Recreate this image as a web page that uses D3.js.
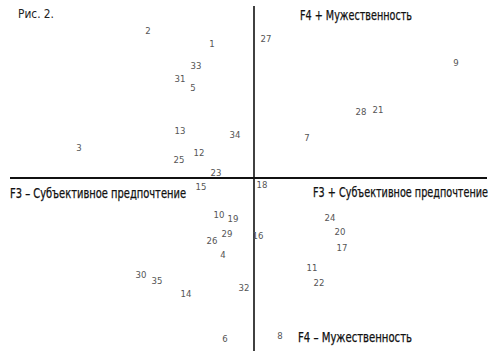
<!DOCTYPE html>
<html><head><meta charset="utf-8">
<script src="https://cdn.jsdelivr.net/npm/d3@7"></script>
<style>
body{margin:0;background:#fff;}
svg{display:block;}
</style></head>
<body><svg id="c" width="500" height="357"></svg>
<script>
// Point labels (respondent numbers)
const ids = [1,2,3,4,5,6,7,8,9,10,11,12,13,14,15,16,17,18,19,20,21,22,23,24,25,26,27,28,29,30,31,32,33,34,35];
// F3 "Субъективное предпочтение" scores
const f3 = [-0.42,-1.06,-1.75,-0.31,-0.61,-0.29,0.53,0.26,2.02,-0.35,0.58,-0.55,-0.74,-0.68,-0.53,0.04,0.88,0.08,-0.21,0.86,1.24,0.65,-0.38,0.76,-0.75,-0.42,0.12,1.07,-0.27,-1.13,-0.74,-0.10,-0.58,-0.19,-0.97];
// F4 "Мужественность" scores
const f4 = [1.34,1.47,0.30,-0.77,0.90,-1.61,0.40,-1.58,1.15,-0.37,-0.90,0.25,0.47,-1.16,-0.09,-0.58,-0.70,-0.07,-0.41,-0.54,0.68,-1.05,0.05,-0.40,0.18,-0.63,1.39,0.66,-0.56,-0.97,0.99,-1.10,1.12,0.43,-1.03];
const axisLabels = ["F4 + Мужественность","F4 – Мужественность","F3 – Субъективное предпочтение","F3 + Субъективное предпочтение"];
const title = "Рис. 2.";

const svg = d3.select("#c");
const x = d3.scaleLinear().domain([-2.44, 2.44]).range([10, 498]);
const y = d3.scaleLinear().domain([1.73, -1.73]).range([5, 351]);
const font = "'Liberation Sans Narrow','DejaVu Sans Condensed','Arial Narrow',sans-serif";

// axes
svg.append("line").attr("x1", x(-2.44)).attr("x2", x(2.33)).attr("y1", y(0)).attr("y2", y(0))
  .attr("stroke", "#111").attr("stroke-width", 2);
svg.append("line").attr("x1", x(0)).attr("x2", x(0)).attr("y1", y(1.72)).attr("y2", y(-1.73))
  .attr("stroke", "#111").attr("stroke-width", 1.6);

// title
svg.append("text").attr("x", 18).attr("y", 17.5).text(title)
  .attr("font-family", font).attr("font-size", 13).attr("fill", "#222")
  .attr("textLength", 36).attr("lengthAdjust", "spacingAndGlyphs");

// axis labels
const lab = [
  {t: axisLabels[0], x: 300, y: 19.5, w: 112},
  {t: axisLabels[1], x: 298, y: 341.5, w: 114},
  {t: axisLabels[2], x: 10, y: 197.5, w: 176},
  {t: axisLabels[3], x: 313, y: 196.5, w: 175}
];
svg.selectAll("text.al").data(lab).join("text").attr("class", "al")
  .attr("x", d => d.x).attr("y", d => d.y).text(d => d.t)
  .attr("font-family", font).attr("font-size", 13.5).attr("fill", "#111")
  .attr("stroke", "#111").attr("stroke-width", 0.25)
  .attr("textLength", d => d.w).attr("lengthAdjust", "spacingAndGlyphs");

// points
const pts = ids.map((id, i) => ({id, a: f3[i], b: f4[i]}));
svg.selectAll("text.pt").data(pts).join("text").attr("class", "pt")
  .attr("x", d => x(d.a)).attr("y", d => y(d.b)).attr("dy", "0.35em")
  .attr("text-anchor", "middle").text(d => d.id)
  .attr("font-family", font).attr("font-size", 9.5).attr("fill", "#555");
</script></body></html>
